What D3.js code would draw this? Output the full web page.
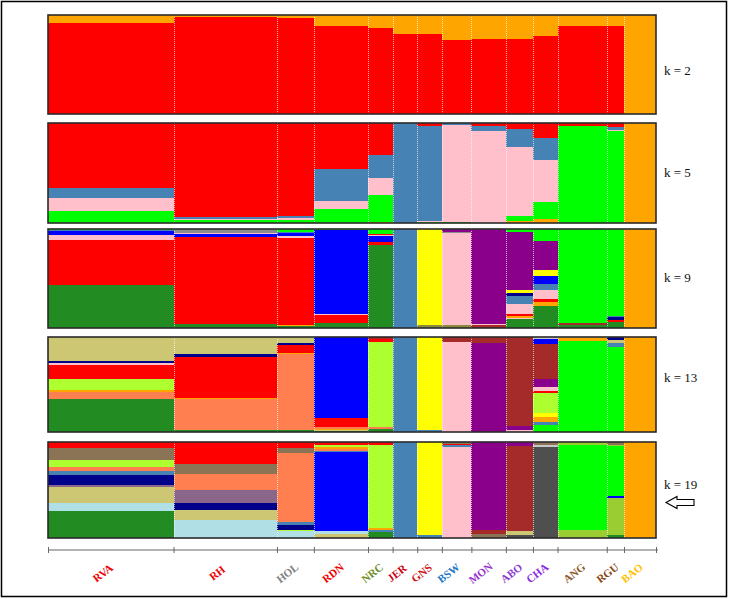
<!DOCTYPE html>
<html><head><meta charset="utf-8">
<script src="https://cdn.jsdelivr.net/npm/d3@7"></script>
<style>
body{margin:0;background:#fff}
svg{display:block}
.serif{font-family:"Liberation Serif","Times New Roman",Times,serif}
</style>
</head><body>
<svg id="chart" width="729" height="599"></svg>
<script>
// ---------------- DATA ----------------
const populations = ["RVA","RH","HOL","RDN","NRC","JER","GNS","BSW","MON","ABO","CHA","ANG","RGU","BAO"];
const sampleSizes = [51,42,15,22,10,10,10,12,14,11,10,20,7,13];
const labelColors = ["#ee0000","#ee0000","#808080","#ee0000","#6b8e23","#cc0011","#cc1111","#1e78c8","#9932cc","#8a3ccf","#8a2be2","#8b5a2b","#8b4513","#ffc000"];
const kValues = [2,5,9,13,19];

const clusterColors = {
  red:"#ff0000", orange:"#ffa500", steel:"#4682b4", pink:"#ffc0cb", lime:"#00ff00",
  forest:"#228b22", blue:"#0000ff", yellow:"#ffff00", purple:"#8b008b", navy:"#00008b",
  gyellow:"#adff2f", coral:"#ff7f50", khaki:"#cdc673", brown:"#a52a2a", dgray:"#4f4f4f",
  gray:"#8c8c8c", lblue:"#b0e0e6", taupe:"#8b7355", plum:"#8b668b", ygreen:"#9acd32",
  olive:"#8b8b40", lgray:"#c8c8c8"
};

// membership per population, segments listed top -> bottom
const k2 = [
  [["orange",.084],["red",.916]],
  [["orange",.024],["red",.976]],
  [["orange",.034],["red",.966]],
  [["orange",.11],["red",.89]],
  [["orange",.135],["red",.865]],
  [["orange",.195],["red",.805]],
  [["orange",.195],["red",.805]],
  [["orange",.25],["red",.75]],
  [["orange",.24],["red",.76]],
  [["orange",.245],["red",.755]],
  [["orange",.21],["red",.79]],
  [["orange",.108],["red",.892]],
  [["orange",.115],["red",.885]],
  [["orange",1]]
];
const k5 = [
  [["red",.648],["steel",.10],["pink",.134],["lime",.118]],
  [["red",.94],["steel",.022],["pink",.012],["lime",.026]],
  [["red",.926],["steel",.027],["pink",.017],["lime",.03]],
  [["red",.456],["steel",.319],["pink",.084],["lime",.141]],
  [["red",.32],["steel",.225],["pink",.178],["lime",.27],["orange",.007]],
  [["steel",1]],
  [["red",.034],["steel",.943],["pink",.013],["lime",.01]],
  [["steel",.015],["pink",.97],["lime",.015]],
  [["red",.034],["steel",.044],["pink",.922]],
  [["red",.06],["steel",.175],["pink",.69],["lime",.05],["orange",.025]],
  [["red",.154],["steel",.215],["pink",.42],["lime",.171],["orange",.04]],
  [["red",.027],["lime",.973]],
  [["red",.037],["steel",.03],["pink",.017],["lime",.916]],
  [["orange",1]]
];
const k9 = [
  [["lime",.012],["steel",.012],["blue",.035],["pink",.05],["red",.46],["forest",.431]],
  [["gray",.04],["pink",.008],["blue",.037],["red",.875],["forest",.04]],
  [["lime",.03],["steel",.01],["blue",.035],["pink",.02],["red",.87],["orange",.01],["forest",.025]],
  [["lime",.01],["blue",.85],["pink",.008],["red",.085],["forest",.047]],
  [["lime",.055],["red",.01],["pink",.01],["blue",.06],["red",.025],["forest",.84]],
  [["steel",1]],
  [["yellow",.965],["olive",.035]],
  [["purple",.03],["gray",.01],["pink",.93],["olive",.03]],
  [["purple",.96],["pink",.01],["brown",.03]],
  [["lime",.03],["purple",.59],["yellow",.027],["navy",.03],["steel",.077],["pink",.108],["red",.017],["orange",.017],["pink",.017],["forest",.087]],
  [["lime",.118],["purple",.30],["yellow",.054],["blue",.084],["steel",.064],["pink",.084],["red",.034],["orange",.04],["forest",.222]],
  [["lime",.95],["brown",.024],["forest",.026]],
  [["lime",.88],["steel",.013],["navy",.03],["red",.02],["forest",.057]],
  [["orange",1]]
];
const k13 = [
  [["khaki",.254],["navy",.024],["pink",.02],["red",.146],["gyellow",.118],["orange",.014],["coral",.073],["forest",.351]],
  [["khaki",.18],["navy",.028],["red",.436],["orange",.01],["coral",.33],["forest",.016]],
  [["khaki",.06],["navy",.028],["red",.077],["orange",.017],["coral",.80],["forest",.018]],
  [["blue",.855],["red",.095],["coral",.015],["orange",.015],["khaki",.012],["forest",.008]],
  [["brown",.024],["red",.028],["gyellow",.90],["coral",.02],["forest",.028]],
  [["steel",1]],
  [["yellow",.98],["steel",.02]],
  [["brown",.05],["pink",.95]],
  [["brown",.06],["purple",.94]],
  [["brown",.94],["purple",.035],["pink",.025]],
  [["lgray",.024],["blue",.052],["brown",.37],["purple",.077],["pink",.042],["red",.02],["gyellow",.21],["yellow",.05],["orange",.045],["steel",.04],["lime",.07]],
  [["khaki",.015],["orange",.025],["lime",.96]],
  [["navy",.028],["khaki",.035],["steel",.042],["lime",.895]],
  [["orange",1]]
];
const k19 = [
  [["red",.062],["taupe",.128],["gyellow",.069],["coral",.038],["steel",.048],["navy",.103],["plum",.017],["khaki",.172],["lblue",.086],["forest",.277]],
  [["red",.23],["taupe",.103],["coral",.172],["plum",.131],["navy",.076],["khaki",.097],["lblue",.191]],
  [["red",.062],["taupe",.052],["coral",.72],["steel",.034],["navy",.045],["gyellow",.012],["lblue",.075]],
  [["red",.034],["gyellow",.015],["orange",.02],["coral",.02],["steel",.02],["blue",.82],["lblue",.03],["khaki",.041]],
  [["red",.028],["gyellow",.869],["orange",.017],["steel",.024],["forest",.062]],
  [["steel",1]],
  [["yellow",.972],["steel",.028]],
  [["taupe",.02],["red",.01],["steel",.02],["pink",.95]],
  [["purple",.914],["brown",.041],["taupe",.045]],
  [["purple",.04],["brown",.89],["khaki",.035],["dgray",.035]],
  [["taupe",.034],["lgray",.016],["dgray",.95]],
  [["ygreen",.034],["lime",.886],["ygreen",.08]],
  [["taupe",.028],["ygreen",.017],["lime",.517],["blue",.017],["ygreen",.393],["forest",.028]],
  [["orange",1]]
];
const panelsData = [k2,k5,k9,k13,k19];

// ---------------- LAYOUT ----------------
const svg = d3.select("#chart");
const left = 48, right = 656;
const panelY = [[15,114],[123,223],[229,328],[337,432],[442,538]];
const kLabelBase = [75,177,282,382,489];

const bounds = [0, ...d3.cumsum(sampleSizes)];
const total = bounds[bounds.length-1];
const x = d3.scaleLinear().domain([0,total]).range([left,right]);

svg.append("rect").attr("x",1.5).attr("y",1.5).attr("width",725).attr("height",595)
  .attr("fill","none").attr("stroke","#000").attr("stroke-width",1.5);

panelsData.forEach((pd,pi) => {
  const [y0,y1] = panelY[pi];
  const y = d3.scaleLinear().domain([0,1]).range([y0,y1]);
  const g = svg.append("g");
  pd.forEach((segs,i) => {
    const s = d3.sum(segs, d=>d[1]);
    const cum = [0, ...d3.cumsum(segs, d=>d[1]/s)];
    g.selectAll(null).data(segs.map((d,j)=>({c:d[0],a:cum[j],b:cum[j+1]})))
      .join("rect")
      .attr("x", x(bounds[i]))
      .attr("width", x(bounds[i+1]) - x(bounds[i]))
      .attr("y", d=>y(d.a))
      .attr("height", d=>Math.max(0, y(d.b)-y(d.a)))
      .attr("fill", d=>clusterColors[d.c])
      .attr("shape-rendering","crispEdges");
  });
  g.selectAll(null).data(bounds.slice(1,-1)).join("line")
    .attr("x1",d=>Math.round(x(d))+0.5).attr("x2",d=>Math.round(x(d))+0.5)
    .attr("y1",y0).attr("y2",y1)
    .attr("stroke","#fff").attr("stroke-width",0.8).attr("stroke-dasharray","1,1").attr("opacity",0.85);
  g.append("rect").attr("x",left).attr("y",y0).attr("width",right-left).attr("height",y1-y0)
    .attr("fill","none").attr("stroke","#2a2a2a").attr("stroke-width",1.6);
  svg.append("text").attr("class","serif").attr("x",664).attr("y",kLabelBase[pi])
    .style("font-size","13px")
    .attr("fill","#111").text("k = " + kValues[pi]);
});

// arrow next to k = 19
svg.append("path")
  .attr("d","M666,502.5 L677,496.5 L677,499.5 L694,499.5 L694,505.5 L677,505.5 L677,508.5 Z")
  .attr("fill","#fff").attr("stroke","#000").attr("stroke-width",1.1);

// axis
const axY = 550;
svg.append("line").attr("x1",x(0)).attr("x2",x(total)+2).attr("y1",axY).attr("y2",axY)
  .attr("stroke","#666").attr("stroke-width",1);
svg.selectAll(".tk").data(bounds).join("line")
  .attr("x1",d=>x(d)+0.5).attr("x2",d=>x(d)+0.5).attr("y1",axY-3).attr("y2",axY+3)
  .attr("stroke","#666").attr("stroke-width",1);

// population labels (rotated)
const ang = -38;
svg.selectAll(".pl").data(populations).join("text")
  .attr("class","serif pl")
  .attr("x",0).attr("y",0).attr("dy","0.35em")
  .attr("transform",(d,i)=>"translate(" + (x((bounds[i]+bounds[i+1])/2) - 8) + ",573) rotate(" + ang + ")")
  .attr("text-anchor","middle")
  .style("font-weight","bold").style("font-size","11px")
  .attr("fill",(d,i)=>labelColors[i])
  .text(d=>d);
</script>
</body></html>
